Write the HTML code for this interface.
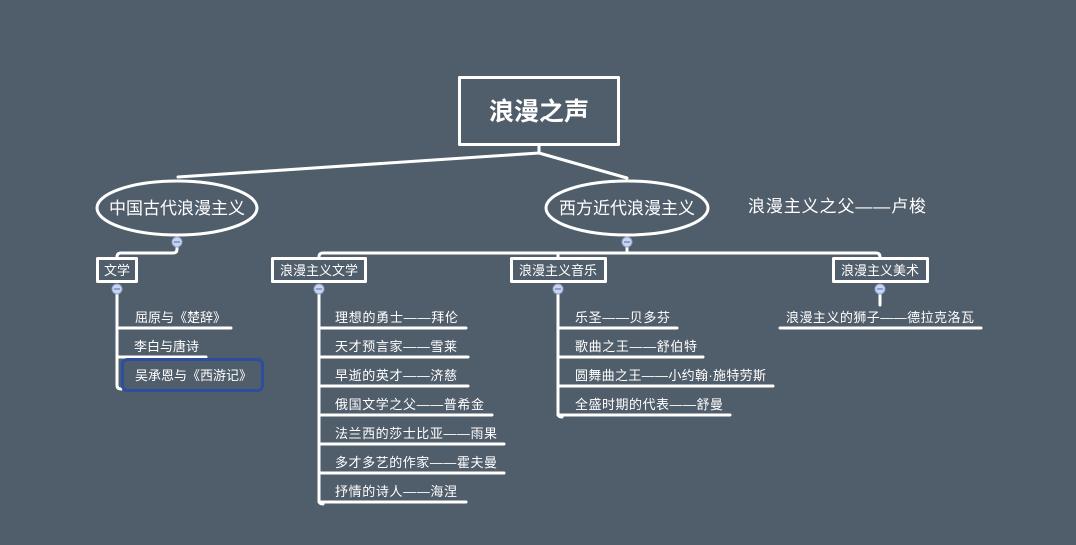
<!DOCTYPE html>
<html><head><meta charset="utf-8"><style>
html,body{margin:0;padding:0;background:#505d6a;}
svg{display:block;}
text{font-family:"Liberation Sans","Noto Sans CJK SC",sans-serif;fill:#fff;}
</style></head><body>
<svg width="1076" height="545" viewBox="0 0 1076 545">
<rect width="1076" height="545" fill="#505d6a"/>
<g stroke="#fff" stroke-width="3" fill="none" stroke-linecap="round" stroke-linejoin="round">
<rect x="459.5" y="77.5" width="159" height="67"/>
<path d="M539 145 V153 L178 177 M539 153 L627 178"/>
<ellipse cx="177" cy="208" rx="80" ry="27"/>
<ellipse cx="627" cy="208" rx="81" ry="27"/>
<path d="M177 247 V249 Q177 253 173 253 H121 Q117 253 117 257 V258"/>
<path d="M627 247 V253 M323 253 H876 Q880 253 880 257 V258 M319 258 V257 Q319 253 323 253 M558 253 V258"/>
<rect x="97.5" y="258.5" width="39" height="23"/>
<rect x="272.5" y="258.5" width="93" height="23"/>
<rect x="511.5" y="258.5" width="94" height="23"/>
<rect x="833.5" y="258.5" width="94" height="23"/>
<path d="M117 294 V385 Q117 389 121 389"/>
<path d="M117 328 H231 M117 357 H206"/>
<path d="M319 294 V500 Q319 504 323 504"/>
<path d="M319 328 H466 M319 357 H468 M319 386 H468 M319 415 H492 M319 444 H504 M319 473 H504 M319 502 H466"/>
<path d="M558 294 V413 Q558 417 562 417"/>
<path d="M558 328 H677 M558 357 H703 M558 386 H773 M558 415 H730"/>
<path d="M880 294 V305 M780 328 H981"/>
</g>
<rect x="122.5" y="359.5" width="140" height="31" rx="5" fill="none" stroke="#2d4d9e" stroke-width="3"/>
<g fill="#c9d5ee" stroke="#8ea3cf" stroke-width="1">
<circle cx="177" cy="242" r="5"/><circle cx="627" cy="242" r="5"/>
<circle cx="117" cy="289" r="5"/><circle cx="319" cy="289" r="5"/>
<circle cx="558" cy="289" r="5"/><circle cx="880" cy="289" r="5"/>
</g>
<g stroke="#6a7fb0" stroke-width="1.2">
<path d="M174 242 H180 M624 242 H630 M114 289 H120 M316 289 H322 M555 289 H561 M877 289 H883"/>
</g>
<text x="539" y="120" font-size="25" font-weight="bold" text-anchor="middle">浪漫之声</text>
<text x="177" y="214" font-size="17" text-anchor="middle">中国古代浪漫主义</text>
<text x="627" y="214" font-size="17" text-anchor="middle">西方近代浪漫主义</text>
<text x="748" y="212" font-size="17" textLength="178" lengthAdjust="spacing">浪漫主义之父——卢梭</text>
<g font-size="13">
<text x="117" y="275" text-anchor="middle">文学</text>
<text x="319" y="275" text-anchor="middle">浪漫主义文学</text>
<text x="558" y="275" text-anchor="middle">浪漫主义音乐</text>
<text x="880" y="275" text-anchor="middle">浪漫主义美术</text>
<text x="135" y="322">屈原与《楚辞》</text>
<text x="134" y="351">李白与唐诗</text>
<text x="135" y="380">吴承恩与《西游记》</text>
<text x="335" y="322" textLength="123" lengthAdjust="spacing">理想的勇士——拜伦</text>
<text x="335" y="351" textLength="122" lengthAdjust="spacing">天才预言家——雪莱</text>
<text x="335" y="380" textLength="122" lengthAdjust="spacing">早逝的英才——济慈</text>
<text x="335" y="409" textLength="149" lengthAdjust="spacing">俄国文学之父——普希金</text>
<text x="335" y="438" textLength="162" lengthAdjust="spacing">法兰西的莎士比亚——雨果</text>
<text x="335" y="467" textLength="162" lengthAdjust="spacing">多才多艺的作家——霍夫曼</text>
<text x="335" y="496" textLength="122" lengthAdjust="spacing">抒情的诗人——海涅</text>
<text x="575" y="322" textLength="95" lengthAdjust="spacing">乐圣——贝多芬</text>
<text x="575" y="351" textLength="122" lengthAdjust="spacing">歌曲之王——舒伯特</text>
<text x="575" y="380" textLength="191" lengthAdjust="spacing">圆舞曲之王——小约翰·施特劳斯</text>
<text x="575" y="409" textLength="148" lengthAdjust="spacing">全盛时期的代表——舒曼</text>
<text x="786" y="322" textLength="188" lengthAdjust="spacing">浪漫主义的狮子——德拉克洛瓦</text>
</g>
</svg>
</body></html>
